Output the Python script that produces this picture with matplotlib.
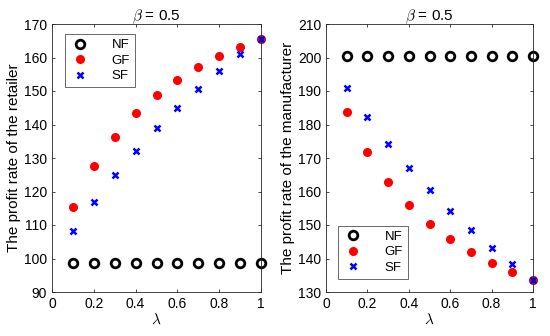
import numpy as np
import matplotlib.pyplot as plt

plt.rcParams['font.family'] = ['Liberation Sans', 'DejaVu Sans']
plt.rcParams['mathtext.fontset'] = 'cm'

lam = [0.1, 0.2, 0.3, 0.4, 0.5, 0.6, 0.7, 0.8, 0.9, 1.0]

# retailer
nf_r = [98.7] * 10
gf_r = [115.5, 127.5, 136.3, 143.3, 148.9, 153.4, 157.2, 160.4, 163.2, 165.6]
sf_r = [108.3, 117.0, 125.0, 132.2, 138.9, 145.0, 150.7, 156.0, 161.0, 165.6]

# manufacturer
nf_m = [200.3] * 10
gf_m = [183.8, 171.9, 162.9, 155.9, 150.3, 145.8, 142.0, 138.8, 136.0, 133.6]
sf_m = [190.9, 182.3, 174.3, 167.0, 160.4, 154.2, 148.5, 143.2, 138.3, 133.6]

fig = plt.figure(figsize=(5.5, 3.36), dpi=100)
ax1 = fig.add_axes([52/550, 1 - 292/336, 209/550, 268/336])
ax2 = fig.add_axes([326/550, 1 - 292/336, 207/550, 268/336])

def draw(ax, nf, gf, sf, ylim, ylabel, loc):
    ax.plot(lam, nf, 'o', mfc='none', mec='k', mew=2, ms=6.2, ls='none', label='NF', clip_on=False)
    ax.plot(lam, gf, 'o', color='r', ms=5.5, ls='none', label='GF', clip_on=False)
    ax.plot(lam, sf, 'x', color='b', mew=1.8, ms=4.2, ls='none', label='SF', clip_on=False)
    ax.set_xlim(0, 1)
    ax.set_ylim(*ylim)
    ax.set_xticks([0, 0.2, 0.4, 0.6, 0.8, 1])
    ax.set_xticklabels(['0', '0.2', '0.4', '0.6', '0.8', '1'])
    ax.tick_params(direction='in', labelsize=10, length=2.5, width=0.6, top=True, right=True,
                   colors='#262626', labelcolor='k')
    for s in ax.spines.values():
        s.set_linewidth(0.6)
        s.set_color('#262626')
    ax.set_xlabel(r'$\lambda$', fontsize=11, labelpad=1)
    ax.set_ylabel(ylabel, fontsize=11, labelpad=2)
    ax.set_title(r'$\beta$ = 0.5', fontsize=11, pad=3)
    leg = ax.legend(loc=loc, fancybox=False, edgecolor='#262626', fontsize=9.5,
                    handletextpad=1.6, borderpad=0.35, labelspacing=0.25,
                    handlelength=1.6, borderaxespad=0)
    leg.get_frame().set_linewidth(0.6)

draw(ax1, nf_r, gf_r, sf_r, (90, 170), 'The profit rate of the retailer', (0.062, 0.765))
draw(ax2, nf_m, gf_m, sf_m, (130, 210), 'The profit rate of the manufacturer', (0.058, 0.05))

fig.savefig('out.png', dpi=100)
